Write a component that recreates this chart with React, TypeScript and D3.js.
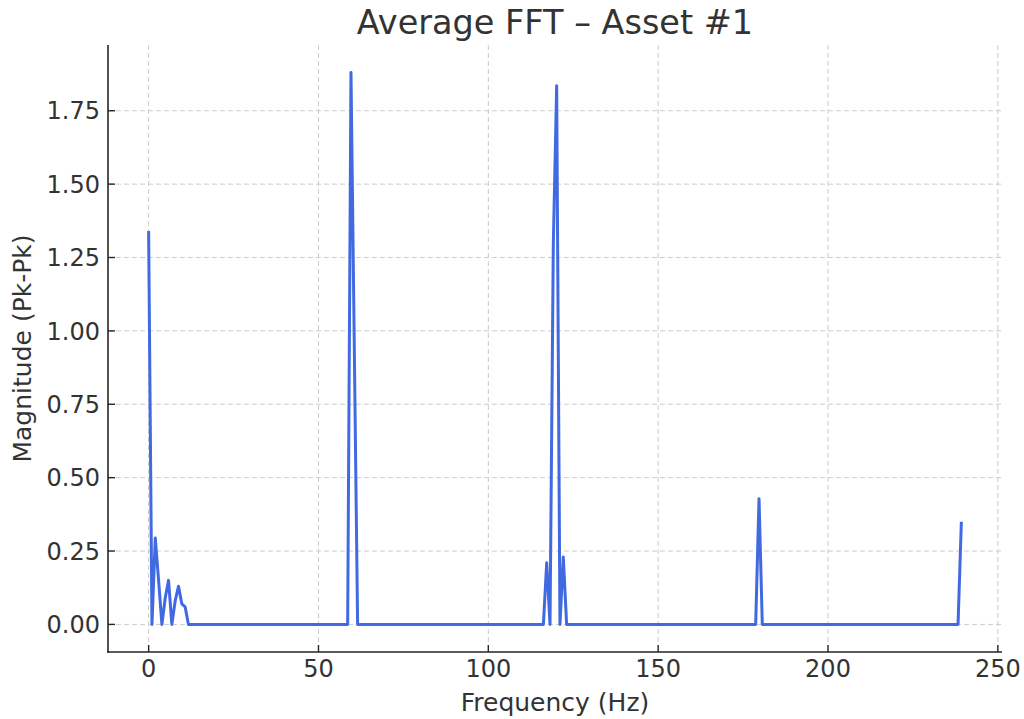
import React from "react";
import * as d3 from "d3";

const W = 1024;
const H = 719;
const margin = { top: 45, right: 22, bottom: 67, left: 108 };

// FFT bins (Hz) where the trace changes, and their magnitudes (Pk-Pk)
const freqHz = [
  0, 0.98, 1.95, 2.93, 3.91, 4.88, 5.86, 6.84, 7.81, 8.79, 9.77, 10.74, 11.72,
  58.59, 59.57, 60.55, 61.52,
  116.21, 117.19, 118.16, 119.14, 120.12, 121.09, 122.07, 123.05,
  178.71, 179.69, 180.66,
  238.28, 239.26,
];
const magnitude = [
  1.34, 0, 0.294, 0.15, 0, 0.09, 0.15, 0, 0.08, 0.13, 0.07, 0.06, 0,
  0, 1.88, 0.94, 0,
  0, 0.21, 0, 1.3, 1.835, 0, 0.23, 0,
  0, 0.428, 0,
  0, 0.35,
];

const xTicks = [0, 50, 100, 150, 200, 250];
const yTicks = [0, 0.25, 0.5, 0.75, 1.0, 1.25, 1.5, 1.75];

const font = "'DejaVu Sans', sans-serif";
const ink = "#333333";

export default function App() {
  const points = freqHz.map((f, i) => [f, magnitude[i]] as [number, number]);

  const [fMin, fMax] = d3.extent(freqHz) as [number, number];
  const fPad = (fMax - fMin) * 0.05;
  const mMax = d3.max(magnitude) as number;
  const mPad = mMax * 0.05;

  const x = d3
    .scaleLinear()
    .domain([fMin - fPad, fMax + fPad])
    .range([margin.left, W - margin.right]);
  const y = d3
    .scaleLinear()
    .domain([-mPad, mMax + mPad])
    .range([H - margin.bottom, margin.top]);

  const line = d3
    .line<[number, number]>()
    .x((d) => x(d[0]))
    .y((d) => y(d[1]));

  const x0 = margin.left;
  const x1 = W - margin.right;
  const y0 = H - margin.bottom;
  const y1 = margin.top;

  return (
    <svg
      width={W}
      height={H}
      style={{ position: "absolute", left: 0, top: 0, background: "#fff" }}
      fontFamily={font}
    >
      {/* grid */}
      <g stroke="#cccccc" strokeWidth={1} strokeDasharray="5,3">
        {xTicks.map((t) => (
          <line key={"gx" + t} x1={x(t)} x2={x(t)} y1={y1} y2={y0} />
        ))}
        {yTicks.map((t) => (
          <line key={"gy" + t} x1={x0} x2={x1} y1={y(t)} y2={y(t)} />
        ))}
      </g>

      {/* trace */}
      <path
        d={line(points) || ""}
        fill="none"
        stroke="#4169E1"
        strokeWidth={3}
        strokeLinejoin="round"
        strokeLinecap="butt"
      />

      {/* spines */}
      <g stroke="#262626" strokeWidth={1.6}>
        <line x1={x0} x2={x0} y1={y1} y2={y0 + 0.8} />
        <line x1={x0 - 0.8} x2={x1} y1={y0} y2={y0} />
      </g>

      {/* x ticks */}
      <g>
        {xTicks.map((t) => (
          <g key={"xt" + t}>
            <line x1={x(t)} x2={x(t)} y1={y0} y2={y0 - 7} stroke="#262626" strokeWidth={1.4} />
            <text x={x(t)} y={y0 + 25} textAnchor="middle" fontSize={24} fill={ink}>
              {t}
            </text>
          </g>
        ))}
      </g>

      {/* y ticks */}
      <g>
        {yTicks.map((t) => (
          <g key={"yt" + t}>
            <line x1={x0} x2={x0 + 7} y1={y(t)} y2={y(t)} stroke="#262626" strokeWidth={1.4} />
            <text
              x={x0 - 8}
              y={y(t)}
              dy="0.36em"
              textAnchor="end"
              fontSize={24}
              fill={ink}
            >
              {d3.format(".2f")(t)}
            </text>
          </g>
        ))}
      </g>

      {/* labels */}
      <text x={(x0 + x1) / 2} y={711} textAnchor="middle" fontSize={25} fill={ink}>
        Frequency (Hz)
      </text>
      <text
        transform={`translate(31, ${(y0 + y1) / 2}) rotate(-90)`}
        textAnchor="middle"
        fontSize={25}
        fill={ink}
      >
        Magnitude (Pk-Pk)
      </text>
      <text x={(x0 + x1) / 2} y={34} textAnchor="middle" fontSize={33.5} fill={ink}>
        Average FFT – Asset #1
      </text>
    </svg>
  );
}
